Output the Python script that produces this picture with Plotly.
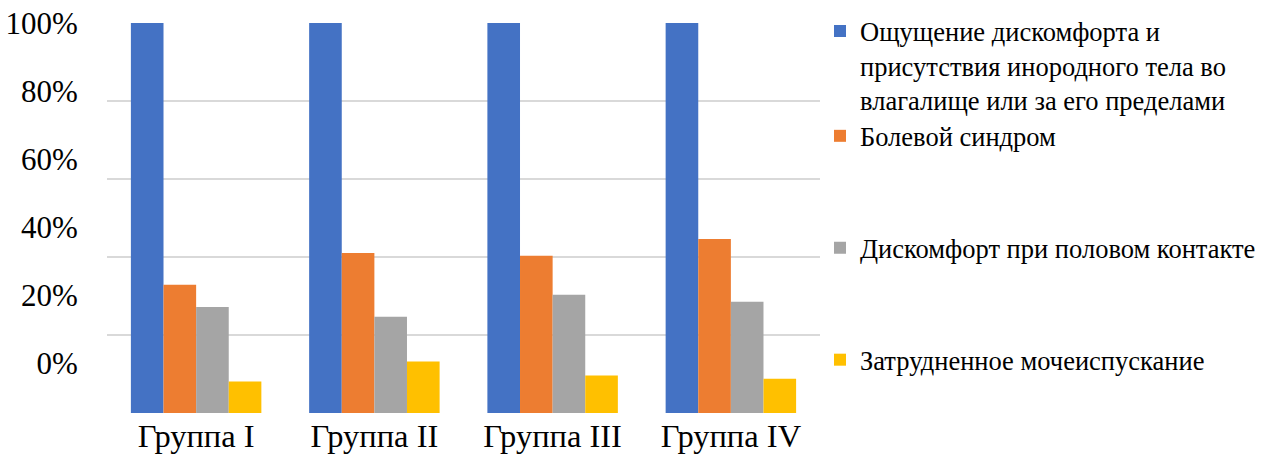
import plotly.graph_objects as go

# Share of patients reporting each complaint, by group (percent)
groups = ["Группа I", "Группа II", "Группа III", "Группа IV"]
discomfort_foreign_body = [100, 100, 100, 100]
pain_syndrome = [32.9, 41.0, 40.3, 44.6]
dyspareunia = [27.2, 24.7, 30.3, 28.5]
difficult_urination = [8.1, 13.2, 9.6, 8.8]

series_names = [
    "Ощущение дискомфорта и<br>присутствия инородного тела во<br>влагалище или за его пределами",
    "Болевой синдром",
    "Дискомфорт при половом контакте",
    "Затрудненное мочеиспускание",
]
series_values = [discomfort_foreign_body, pain_syndrome, dyspareunia, difficult_urination]
series_colors = ["#4472C4", "#ED7D31", "#A5A5A5", "#FFC000"]
legend_ids = ["legend", "legend2", "legend3", "legend4"]

ytick_vals = [0, 20, 40, 60, 80, 100]
ytick_text = ["0%", "20%", "40%", "60%", "80%", "100%"]

FONT = "Liberation Serif, Times New Roman, serif"

fig = go.Figure()
for name, vals, color, leg in zip(series_names, series_values, series_colors, legend_ids):
    fig.add_trace(go.Bar(
        x=groups, y=vals, name=name, marker=dict(color=color, line=dict(width=0)),
        legend=leg,
    ))

# carrier for the percentage label axis (labels sit on their own, shorter scale)
fig.add_trace(go.Scatter(x=[], y=[], yaxis="y2", showlegend=False, hoverinfo="skip"))

legend_common = dict(
    xanchor="left", bgcolor="rgba(0,0,0,0)", font=dict(family=FONT, size=26.5, color="#000000"),
    itemwidth=30, valign="top", tracegroupgap=0,
)
fig.update_layout(
    width=1268, height=454,
    margin=dict(l=107, r=448, t=23, b=41, autoexpand=False),
    paper_bgcolor="white", plot_bgcolor="white",
    barmode="group", bargap=0.268, bargroupgap=0,
    font=dict(family=FONT, color="#000000"),
    showlegend=True,
    legend=dict(x=1.0, y=1.04, yanchor="top", **legend_common),
    legend2=dict(x=1.0, y=0.71, yanchor="middle", **legend_common),
    legend3=dict(x=1.0, y=0.423, yanchor="middle", **legend_common),
    legend4=dict(x=1.0, y=0.136, yanchor="middle", **legend_common),
    xaxis=dict(
        showgrid=False, showline=False, zeroline=False, automargin=False,
        ticks="",
        tickfont=dict(family=FONT, size=32.5, color="#000000"),
    ),
    yaxis=dict(
        range=[0, 100], tickvals=ytick_vals, showticklabels=False,
        showgrid=True, gridcolor="#D9D9D9", gridwidth=2,
        zeroline=False, showline=False, automargin=False,
    ),
    yaxis2=dict(
        range=[-14.7, 100], overlaying="y", side="left", automargin=False,
        tickvals=ytick_vals, ticktext=ytick_text,
        showgrid=False, zeroline=False, showline=False,
        ticks="outside", ticklen=22, tickcolor="rgba(0,0,0,0)",
        tickfont=dict(family=FONT, size=31, color="#000000"),
    ),
)

fig.write_html("out.html")
